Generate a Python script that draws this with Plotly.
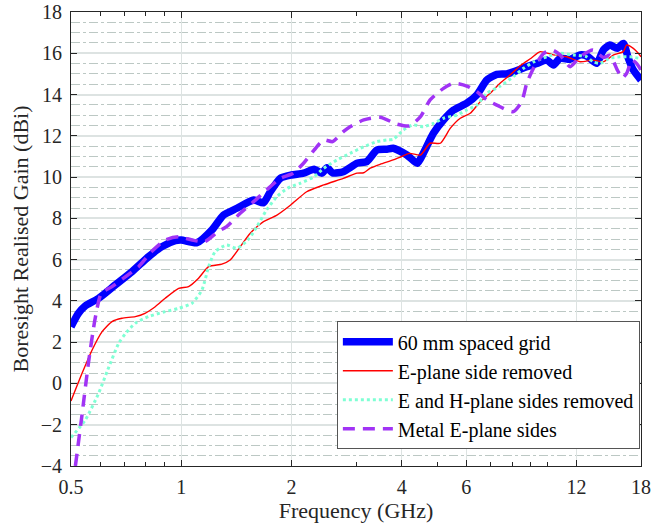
import plotly.graph_objects as go

# Frequency (GHz) / gain (dBi)
grid_f = [0.5, 0.524, 0.547, 0.595, 0.66, 0.734, 0.814, 0.886, 0.963, 1.0, 1.104, 1.213, 1.304, 1.419,
          1.576, 1.677, 1.75, 1.864, 2.0, 2.157, 2.305, 2.42, 2.5, 2.59, 2.77, 3.02, 3.21, 3.42, 3.64,
          3.79, 4.13, 4.41, 4.58, 4.88, 5.2, 5.54, 6.02, 6.41, 6.83, 7.27, 7.74, 8.07, 8.78, 9.35, 9.95,
          10.38, 10.82, 11.53, 12.27, 12.8, 13.63, 14.21, 14.81, 15.5, 16.11, 16.62, 17.15, 18]
grid_g = [2.75, 3.4, 3.76, 4.13, 4.77, 5.42, 6.14, 6.63, 6.92, 6.95, 6.82, 7.44, 8.16, 8.49,
          8.89, 8.76, 9.29, 9.94, 10.1, 10.19, 10.38, 10.19, 10.45, 10.2, 10.26, 10.67, 10.75, 11.31, 11.35,
          11.4, 11.07, 10.67, 11.15, 12.12, 12.77, 13.25, 13.58, 13.98, 14.7, 14.98, 15.0, 15.1, 15.35, 15.51, 15.67,
          15.43, 15.76, 15.71, 15.92, 15.87, 15.51, 16.16, 16.4, 16.24, 16.48, 15.76, 15.19, 14.7]

eside_f = [0.5, 0.536, 0.571, 0.608, 0.647, 0.689, 0.749, 0.796, 0.849, 0.904, 0.984, 1.047, 1.115, 1.188,
           1.291, 1.36, 1.449, 1.543, 1.677, 1.825, 1.99, 2.2, 2.45, 2.77, 3.02, 3.15, 3.28, 3.49, 3.79,
           3.95, 4.2, 4.5, 4.78, 5.1, 5.43, 5.78, 6.15, 6.55, 6.97, 7.42, 7.9, 8.47, 9.02, 9.55, 10.38,
           11.28, 12.27, 13.3, 14.21, 15.15, 16.1, 16.45, 17.15, 17.7, 18]
eside_g = [-0.85, 0.49, 1.62, 2.51, 3.0, 3.16, 3.24, 3.4, 3.72, 4.13, 4.61, 4.69, 5.1, 5.66,
           5.78, 5.98, 6.63, 7.28, 7.84, 8.16, 8.65, 9.29, 9.62, 9.94, 10.19, 10.21, 10.43, 10.62, 10.83,
           10.96, 11.15, 11.07, 11.64, 11.64, 12.37, 12.85, 13.09, 13.65, 14.06, 14.55, 14.95, 15.43, 15.76, 16.08, 15.92,
           15.83, 15.59, 15.67, 15.59, 15.92, 16.08, 16.4, 16.24, 16.0, 15.83]

ehside_f = [0.5, 0.547, 0.595, 0.63, 0.675, 0.705, 0.749, 0.814, 0.904, 0.984, 1.07, 1.139, 1.188, 1.238,
            1.33, 1.419, 1.52, 1.609, 1.71, 1.825, 1.95, 2.11, 2.305, 2.45, 2.66, 2.89, 3.15, 3.42, 3.64,
            3.79, 4.04, 4.3, 4.58, 4.88, 5.2, 5.66, 6.02, 6.41, 6.83, 7.42, 8.07, 8.6, 9.2, 9.95, 10.82,
            11.76, 12.8, 13.3, 13.9, 14.81, 15.8, 16.8, 17.9, 18]
ehside_g = [-2.62, -1.77, -0.47, 0.66, 1.95, 2.43, 2.92, 3.24, 3.48, 3.64, 3.89, 4.53, 5.66, 6.39,
            6.71, 6.55, 6.95, 7.6, 8.41, 9.05, 9.46, 9.7, 10.02, 10.43, 10.83, 11.15, 11.47, 11.72, 11.8,
            11.83, 12.28, 12.53, 12.44, 12.6, 12.85, 13.01, 13.25, 13.49, 14.06, 14.4, 14.87, 15.27, 15.59, 15.83, 16.0,
            15.92, 15.83, 15.59, 15.51, 15.76, 15.83, 15.83, 15.76, 15.8]

metal_f = [0.514, 0.536, 0.558, 0.582, 0.605, 0.647, 0.705, 0.765, 0.83, 0.904, 0.984, 1.07, 1.16, 1.26,
           1.33, 1.449, 1.576, 1.71, 1.864, 2.02, 2.157, 2.305, 2.45, 2.59, 2.77, 2.89, 3.15, 3.49, 3.88,
           4.2, 4.5, 4.78, 5.2, 5.54, 6.02, 6.41, 6.83, 7.27, 7.74, 8.07, 8.5, 8.78, 9.2, 9.77, 10.3,
           10.82, 11.53, 12.27, 13.3, 14.21, 14.81, 15.5, 16.0, 16.45, 17.0, 17.5, 18]
metal_g = [-4.0, -1.5, 1.0, 3.15, 4.37, 4.69, 5.18, 5.66, 6.39, 6.95, 7.11, 6.95, 6.87, 7.36,
           7.6, 8.25, 8.81, 9.38, 9.94, 10.19, 10.67, 11.31, 11.8, 11.72, 12.2, 12.44, 12.77, 12.9, 12.57,
           12.48, 12.93, 13.74, 14.3, 14.55, 14.41, 14.14, 13.74, 13.49, 13.25, 13.17, 13.65, 14.55, 15.35, 16.0, 16.16,
           15.92, 15.35, 15.83, 16.16, 15.8, 15.9, 15.2, 14.8, 15.03, 15.67, 15.51, 15.19]

x_ticks = [0.5, 1, 2, 4, 6, 12, 18]
x_minor = [0.6, 0.7, 0.8, 0.9, 3, 5, 7, 8, 9, 10]
y_ticks = list(range(-4, 19, 2))

font = "Liberation Serif"
ink = "#262626"

fig = go.Figure()
fig.add_trace(go.Scatter(x=grid_f, y=grid_g, name="60 mm spaced grid", mode="lines",
                         line=dict(color="#0000FF", width=7.5, shape="spline", smoothing=0.6)))
fig.add_trace(go.Scatter(x=eside_f, y=eside_g, name="E-plane side removed", mode="lines",
                         line=dict(color="#FF0000", width=1.4, shape="spline", smoothing=0.6)))
fig.add_trace(go.Scatter(x=ehside_f, y=ehside_g, name="E and H-plane sides removed", mode="lines",
                         line=dict(color="#7FFFD4", width=3, dash="dot", shape="spline", smoothing=0.6)))
fig.add_trace(go.Scatter(x=metal_f, y=metal_g, name="Metal E-plane sides", mode="lines",
                         line=dict(color="#A133F5", width=3.5, dash="12px,8px", shape="spline", smoothing=0.6)))

# log axis range is given in log10 units
fig.update_xaxes(
    type="log", range=[-0.30103, 1.2552725], tickvals=x_ticks, ticktext=[str(v) for v in x_ticks],
    title=dict(text="Frequency (GHz)", font=dict(size=22, color=ink), standoff=4),
    showline=True, linecolor=ink, linewidth=1, mirror="allticks", automargin=False,
    ticks="inside", ticklen=6, tickcolor=ink, tickfont=dict(size=20, color=ink), ticklabelstandoff=3,
    showgrid=True, gridcolor="#dde3e2", gridwidth=1, zeroline=False,
    minor=dict(tickvals=x_minor, ticks="inside", ticklen=4, tickcolor=ink, showgrid=False),
)
fig.update_yaxes(
    range=[-4, 18], tickvals=y_ticks,
    title=dict(text="Boresight Realised Gain (dBi)", font=dict(size=22, color=ink), standoff=6),
    showline=True, linecolor=ink, linewidth=1, mirror="allticks", automargin=False,
    ticks="inside", ticklen=6, tickcolor=ink, tickfont=dict(size=20, color=ink), ticklabelstandoff=4,
    showgrid=True, gridcolor="#dde3e2", gridwidth=1.5, zeroline=False,
    minor=dict(dtick=0.5, showgrid=True, gridcolor="#bcc8c4", griddash="dashdot", gridwidth=1, ticks=""),
)

fig.update_layout(
    width=665, height=529,
    margin=dict(l=71, r=24, t=12, b=63),
    paper_bgcolor="white", plot_bgcolor="white",
    font=dict(family=font, color=ink),
    showlegend=True,
    legend=dict(x=0.998, xanchor="right", y=0.037, yanchor="bottom",
                bgcolor="white", bordercolor="#555555", borderwidth=1,
                font=dict(size=20, color="black"), tracegroupgap=0, itemwidth=50),
)

# drop the default 8px body margin so the figure sits at the page corner
fig.write_html("out.html", config={"displayModeBar": False},
               post_script="document.body.style.margin = '0';")
